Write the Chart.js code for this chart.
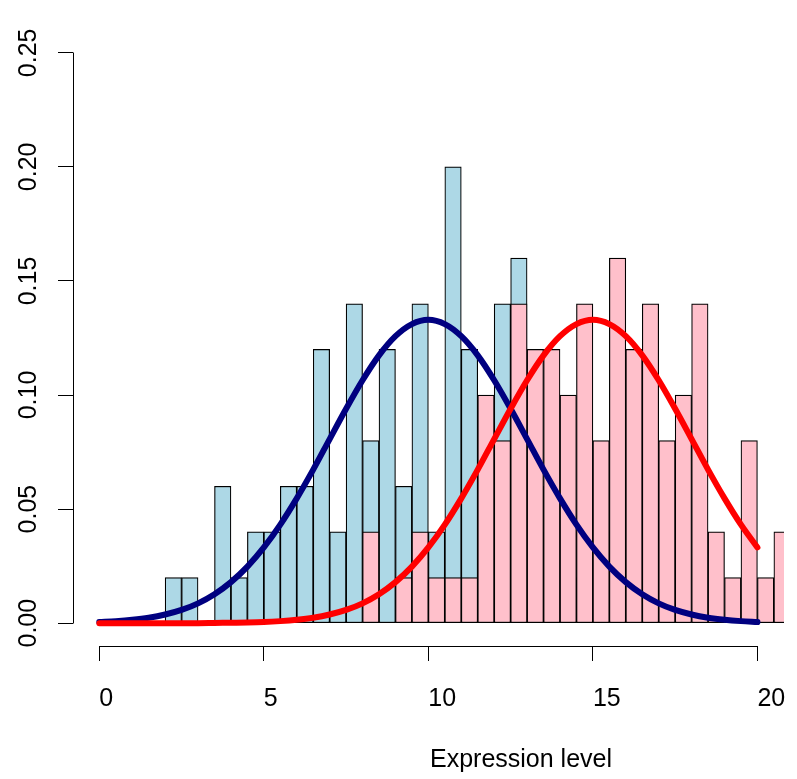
<!DOCTYPE html>
<html>
<head>
<meta charset="utf-8">
<script src="https://cdn.jsdelivr.net/npm/chart.js@4/dist/chart.umd.min.js"></script>
<style>
  html, body { margin: 0; padding: 0; background: #fff; overflow: hidden; }
  canvas { display: block; }
</style>
</head>
<body>
<canvas id="chart" width="1000" height="779"></canvas>
<script>
// histogram bins: left edges, each bin is 0.5 wide
const binLeft = [2, 2.5, 3, 3.5, 4, 4.5, 5, 5.5, 6, 6.5, 7, 7.5, 8, 8.5, 9, 9.5, 10, 10.5, 11, 11.5,
                 12, 12.5, 13, 13.5, 14, 14.5, 15, 15.5, 16, 16.5, 17, 17.5, 18, 18.5, 19, 19.5, 20, 20.5];
const blueDensity = [0.02, 0.02, 0, 0.06, 0.02, 0.04, 0.04, 0.06, 0.06, 0.12, 0.04, 0.14, 0.08, 0.12, 0.06, 0.14, 0.04, 0.20, 0.12, 0.08,
                     0.14, 0.16, 0.06, 0.04, 0.04, 0.02, 0.04, 0, 0.02, 0, 0.02, 0, 0, 0, 0, 0, 0, 0];
const pinkDensity = [0, 0, 0, 0, 0, 0, 0, 0, 0, 0, 0, 0, 0.04, 0, 0.02, 0.04, 0.02, 0.02, 0.02, 0.10,
                     0.08, 0.14, 0.12, 0.12, 0.10, 0.14, 0.08, 0.16, 0.12, 0.14, 0.08, 0.10, 0.14, 0.04, 0.02, 0.08, 0.02, 0.04];

// density curves
const curveX = [0, 0.5, 1, 1.5, 2, 2.5, 3, 3.5, 4, 4.5, 5, 5.5, 6, 6.5, 7, 7.5, 8, 8.5, 9, 9.5, 10,
                10.5, 11, 11.5, 12, 12.5, 13, 13.5, 14, 14.5, 15, 15.5, 16, 16.5, 17, 17.5, 18, 18.5, 19, 19.5, 20];
const blueCurve = [0.0005, 0.0009, 0.0015, 0.0024, 0.0038, 0.0058, 0.0087, 0.0127, 0.0180, 0.0248, 0.0332,
                   0.0432, 0.0547, 0.0673, 0.0807, 0.0940, 0.1065, 0.1174, 0.1258, 0.1311, 0.1330,
                   0.1311, 0.1258, 0.1174, 0.1065, 0.0940, 0.0807, 0.0673, 0.0547, 0.0432, 0.0332,
                   0.0248, 0.0180, 0.0127, 0.0087, 0.0058, 0.0038, 0.0024, 0.0015, 0.0009, 0.0005];
const redCurve = [0, 0, 0, 0, 0, 0, 0, 0.0001, 0.0002, 0.0003, 0.0005,
                  0.0009, 0.0015, 0.0024, 0.0038, 0.0058, 0.0087, 0.0127, 0.0180, 0.0248, 0.0332,
                  0.0432, 0.0547, 0.0673, 0.0807, 0.0940, 0.1065, 0.1174, 0.1258, 0.1311, 0.1330,
                  0.1311, 0.1258, 0.1174, 0.1065, 0.0940, 0.0807, 0.0673, 0.0547, 0.0432, 0.0332];

const xTicks = [0, 5, 10, 15, 20];
const yTicks = [0, 0.05, 0.10, 0.15, 0.20, 0.25];

const font = { family: '"Liberation Sans", Arial, Helvetica, sans-serif', size: 25 };
const half = 0.25;

// R style axis lines that only run between the first and last tick
const rAxes = {
  id: 'rAxes',
  afterDraw(chart) {
    const { ctx, chartArea, scales: { x, y } } = chart;
    const align = p => Math.round(p - 0.5) + 0.5;
    ctx.save();
    ctx.strokeStyle = '#000';
    ctx.lineWidth = 1;
    ctx.beginPath();
    const ax = align(chartArea.left);
    ctx.moveTo(ax, align(y.getPixelForValue(yTicks[0])));
    ctx.lineTo(ax, align(y.getPixelForValue(yTicks[yTicks.length - 1])));
    const ay = align(chartArea.bottom);
    ctx.moveTo(align(x.getPixelForValue(xTicks[0])), ay);
    ctx.lineTo(align(x.getPixelForValue(xTicks[xTicks.length - 1])), ay);
    ctx.stroke();
    ctx.restore();
  }
};

const barClip = { left: 0, top: 0, right: -185, bottom: 0 };

new Chart(document.getElementById('chart'), {
  type: 'bar',
  data: {
    datasets: [
      {
        type: 'line',
        data: curveX.map((v, i) => ({ x: v, y: redCurve[i] })),
        borderColor: '#ff0000',
        borderWidth: 6,
        borderCapStyle: 'round',
        borderJoinStyle: 'round',
        pointRadius: 0,
        cubicInterpolationMode: 'monotone',
        order: 0
      },
      {
        type: 'line',
        data: curveX.map((v, i) => ({ x: v, y: blueCurve[i] })),
        borderColor: '#000080',
        borderWidth: 6,
        borderCapStyle: 'round',
        borderJoinStyle: 'round',
        pointRadius: 0,
        cubicInterpolationMode: 'monotone',
        order: 1
      },
      {
        data: binLeft.map((v, i) => ({ x: v + half, y: pinkDensity[i] })),
        backgroundColor: '#ffc0cb',
        borderColor: '#000',
        borderWidth: 1.2,
        borderSkipped: false,
        clip: barClip,
        order: 2
      },
      {
        data: binLeft.map((v, i) => ({ x: v + half, y: blueDensity[i] })),
        backgroundColor: '#add8e6',
        borderColor: '#000',
        borderWidth: 1.2,
        borderSkipped: false,
        clip: barClip,
        order: 3
      }
    ]
  },
  options: {
    responsive: false,
    animation: false,
    datasets: {
      bar: { grouped: false, barPercentage: 1, categoryPercentage: 1 }
    },
    layout: { padding: { left: 0, top: 30, right: 31, bottom: 0 } },
    plugins: {
      legend: { display: false },
      tooltip: { enabled: false }
    },
    scales: {
      x: {
        type: 'linear',
        min: -0.8,
        max: 26.43,
        offset: false,
        afterBuildTicks: s => { s.ticks = xTicks.map(v => ({ value: v })); },
        afterFit: s => { s.height = 133; },
        border: { display: false },
        grid: { offset: false, drawOnChartArea: false, tickLength: 15, color: '#000', tickColor: '#000' },
        ticks: { align: 'start', padding: 23, font: font, color: '#000', autoSkip: false, maxRotation: 0 },
        title: { display: true, text: 'Expression level', font: font, color: '#000', padding: { top: 0, bottom: 4 } }
      },
      y: {
        min: -0.01,
        max: 0.26,
        afterBuildTicks: s => { s.ticks = yTicks.map(v => ({ value: v })); },
        afterFit: s => { s.width = 73; },
        border: { display: false },
        grid: { offset: false, drawOnChartArea: false, tickLength: 15, color: '#000', tickColor: '#000' },
        ticks: {
          font: font,
          color: '#000',
          padding: 5,
          minRotation: 90,
          maxRotation: 90,
          crossAlign: 'center',
          callback: v => v.toFixed(2)
        }
      }
    }
  },
  plugins: [rAxes]
});
</script>
</body>
</html>
